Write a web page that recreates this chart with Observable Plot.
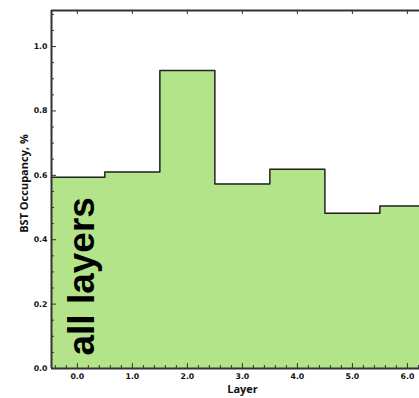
<!DOCTYPE html>
<html><head><meta charset="utf-8">
<script src="https://cdn.jsdelivr.net/npm/d3@7"></script>
<script src="https://cdn.jsdelivr.net/npm/@observablehq/plot@0.6"></script>
<style>html,body{margin:0;padding:0;background:#fff;overflow:hidden}</style>
</head><body><div id="chart"></div>
<script>
const layers = [0, 1, 2, 3, 4, 5, 6];
const occupancy = [0.594, 0.610, 0.926, 0.573, 0.619, 0.482, 0.505];
const xTicks = [0, 1, 2, 3, 4, 5, 6];
const yTicks = [0, 0.2, 0.4, 0.6, 0.8, 1.0];
const xDomain = [-0.47, 6.22];
const yDomain = [0, 1.112];
const annotation = "all layers";
const xLabel = "Layer";
const yLabel = "BST Occupancy, %";

const steps = layers.map((l, i) => ({x: l - 0.5, y: occupancy[i]}));
steps.push({x: layers[layers.length - 1] + 0.5, y: occupancy[occupancy.length - 1]});

const xMinor = d3.range(-2, 32).map(i => i * 0.2).filter(v => v >= xDomain[0] && v <= xDomain[1] && Math.abs(v - Math.round(v)) > 1e-6);
const yMinor = d3.range(0, 23).map(i => i * 0.05).filter(v => v <= yDomain[1] && Math.abs(v / 0.2 - Math.round(v / 0.2)) > 1e-6);

const axisColor = "#333";
const green = "#b4e48a";

const chart = Plot.plot({
  width: 419,
  height: 398,
  marginLeft: 51,
  marginRight: 0,
  marginTop: 10,
  marginBottom: 30,
  style: {fontFamily: "DejaVu Sans", fontWeight: "bold", fontSize: "7.8px", color: "#111", background: "#fff"},
  x: {domain: xDomain},
  y: {domain: yDomain},
  marks: [
    Plot.areaY(steps, {x: "x", y: "y", curve: "step-after", fill: green, clip: true}),
    Plot.lineY(steps, {x: "x", y: "y", curve: "step-after", stroke: "#222", strokeWidth: 1.5, clip: true}),
    Plot.text([annotation], {frameAnchor: "bottom-left", dx: 31, dy: -13, rotate: -90, textAnchor: "start", lineAnchor: "middle", text: d => d, fontSize: 37, fontWeight: "bold", fontFamily: "Liberation Sans", fill: "#000"}),
    // tick labels
    Plot.axisY({ticks: yTicks, tickSize: 0, tickPadding: 4, tickFormat: d3.format(".1f"), label: null}),
    Plot.axisX({ticks: xTicks, tickSize: 0, tickPadding: 5, tickFormat: d3.format(".1f"), label: null}),
    // inward ticks
    Plot.axisY({ticks: yTicks, tickSize: -5, tickFormat: () => "", label: null, stroke: axisColor}),
    Plot.axisY({ticks: yMinor, tickSize: -3, tickFormat: () => "", label: null, stroke: axisColor}),
    Plot.axisX({ticks: xTicks, tickSize: -5, tickFormat: () => "", label: null, stroke: axisColor}),
    Plot.axisX({ticks: xMinor, tickSize: -3, tickFormat: () => "", label: null, stroke: axisColor}),
    Plot.axisX({anchor: "top", ticks: xTicks, tickSize: -3, tickFormat: () => "", label: null, stroke: axisColor}),
    // frame lines
    Plot.ruleY([yDomain[0]], {stroke: axisColor, strokeWidth: 2}),
    Plot.ruleY([yDomain[1]], {stroke: axisColor, strokeWidth: 2}),
    Plot.ruleX([xDomain[0]], {stroke: axisColor, strokeWidth: 2}),
    // axis titles
    Plot.text([yLabel], {frameAnchor: "left", dx: -27, dy: -6, rotate: -90, textAnchor: "middle", lineAnchor: "middle", text: d => d, fontFamily: "Open Sans", fontWeight: "bold", fontSize: 11, fill: "#111"}),
    Plot.text([xLabel], {frameAnchor: "bottom", dx: 7, dy: 21, textAnchor: "middle", lineAnchor: "middle", text: d => d, fontFamily: "Open Sans", fontWeight: "bold", fontSize: 11, fill: "#111"})
  ]
});
document.getElementById("chart").appendChild(chart);
</script>
</body></html>
